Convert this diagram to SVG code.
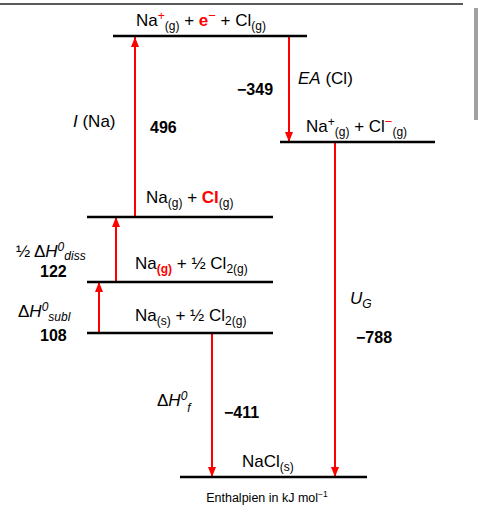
<svg xmlns="http://www.w3.org/2000/svg" width="478" height="509" viewBox="0 0 478 509">
<defs>
<marker id="ah" markerUnits="userSpaceOnUse" markerWidth="10" markerHeight="8" viewBox="0 0 10 8" refX="10" refY="4" orient="auto">
<path d="M0,0 L10,4 L0,8 Z" fill="#FF0000"/>
</marker>
</defs>
<style>
.lvl{stroke:#000;stroke-width:2.5;}
.arr{stroke:#FF0000;stroke-width:2;fill:none;}
text{font-family:"Liberation Sans","Open Sans",sans-serif;fill:#000;}
.t{font-size:17px;}
.s{font-size:12px;}
.b{font-weight:bold;font-size:16px;}
.r{fill:#FF0000;}
.i{font-style:italic;}
.n{font-style:normal;}
</style>
<rect width="478" height="509" fill="#fff"/>
<line x1="0" y1="4" x2="463" y2="4" stroke="#5a5a5a" stroke-width="2"/>
<rect x="474" y="8" width="4" height="112" fill="#a0a0a0"/>

<g id="connectors">
<line class="arr" x1="135" y1="217" x2="135" y2="37"  marker-end="url(#ah)"/>
<line class="arr" x1="116" y1="282" x2="116" y2="217" marker-end="url(#ah)"/>
<line class="arr" x1="99" y1="333" x2="99" y2="282" marker-end="url(#ah)"/>
<line class="arr" x1="289" y1="37" x2="289" y2="142" marker-end="url(#ah)"/>
<line class="arr" x1="335" y1="142" x2="335" y2="477" marker-end="url(#ah)"/>
<line class="arr" x1="212" y1="333" x2="212" y2="477" marker-end="url(#ah)"/>
</g>

<g id="level-top">
<line class="lvl" x1="113" y1="36" x2="307" y2="36"/>
<text class="t" x="136" y="26">Na<tspan class="s r" dy="-6">+</tspan><tspan class="s" dy="10">(g)</tspan><tspan dy="-4"> + </tspan><tspan class="r" font-weight="bold">e</tspan><tspan class="r" dy="-6" font-size="13">−</tspan><tspan dy="6"> + Cl</tspan><tspan class="s" dy="4">(g)</tspan></text>
</g>

<g id="level-ions">
<line class="lvl" x1="280" y1="142" x2="435" y2="142"/>
<text class="t" x="306" y="132">Na<tspan class="s" dy="-6">+</tspan><tspan class="s" dy="10">(g)</tspan><tspan dy="-4"> + Cl</tspan><tspan class="r" font-size="13" dy="-6">−</tspan><tspan class="s" dy="10">(g)</tspan></text>
</g>

<g id="level-atoms">
<line class="lvl" x1="87" y1="217" x2="273" y2="217"/>
<text class="t" x="146" y="203">Na<tspan class="s" dy="4">(g)</tspan><tspan dy="-4"> + </tspan><tspan class="r" font-weight="bold">Cl</tspan><tspan class="s" dy="4">(g)</tspan></text>
</g>

<g id="level-nag">
<line class="lvl" x1="87" y1="282" x2="273" y2="282"/>
<text class="t" x="135" y="269">Na<tspan class="s r" font-weight="bold" dy="4">(g)</tspan><tspan dy="-4"> + ½ Cl</tspan><tspan class="s" dy="4">2(g)</tspan></text>
</g>

<g id="level-nas">
<line class="lvl" x1="87" y1="333" x2="273" y2="333"/>
<text class="t" x="135" y="321">Na<tspan class="s" dy="4">(s)</tspan><tspan dy="-4"> + ½ Cl</tspan><tspan class="s" dy="4">2(g)</tspan></text>
</g>

<g id="level-nacl">
<line class="lvl" x1="180" y1="477" x2="367" y2="477"/>
<text class="t" x="242" y="467">NaCl<tspan class="s" dy="4">(s)</tspan></text>
<text x="267" y="502" font-size="12.5" text-anchor="middle">Enthalpien in kJ mol<tspan font-size="8.5" dy="-5">−1</tspan></text>
</g>

<g id="labels">
<text class="t" x="73" y="127"><tspan class="i">I</tspan> (Na)</text>
<text class="b" x="150" y="133">496</text>
<text class="t" x="298" y="84"><tspan class="i">EA</tspan> (Cl)</text>
<text class="b" x="237" y="95">−349</text>
<text class="t i" x="16" y="257"><tspan class="n">½ Δ</tspan>H<tspan class="s" dy="-6">0</tspan><tspan class="s" dy="9">diss</tspan></text>
<text class="b" x="40" y="277">122</text>
<text class="t i" x="18" y="317"><tspan class="n">Δ</tspan>H<tspan class="s" dy="-6">0</tspan><tspan class="s" dy="10">subl</tspan></text>
<text class="b" x="40" y="341">108</text>
<text class="t i" x="157" y="406"><tspan class="n">Δ</tspan>H<tspan class="s" dy="-6">0</tspan><tspan class="s" dy="12">f</tspan></text>
<text class="b" x="224" y="418">−411</text>
<text class="t i" x="350" y="304">U<tspan class="s" dy="4">G</tspan></text>
<text class="b" x="356" y="343">−788</text>
</g>
</svg>
